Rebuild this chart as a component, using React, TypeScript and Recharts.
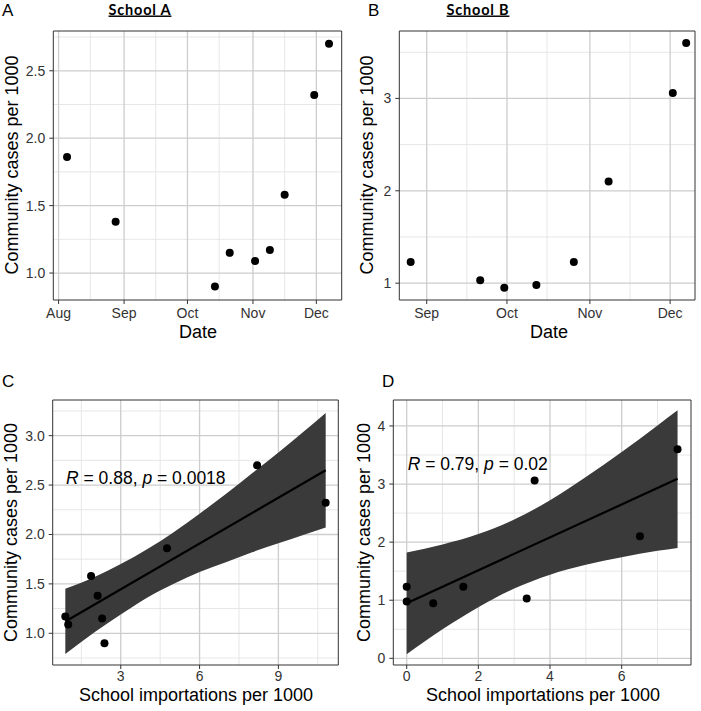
import React from "react";
import { ComposedChart, Scatter, Line, Area, XAxis, YAxis, CartesianGrid, ReferenceArea } from "recharts";

const FONT = "'Liberation Sans', Arial, sans-serif";

// A / B: community cases per 1000 by week
const datesA = ["2020-08-05", "2020-08-28", "2020-10-14", "2020-10-21", "2020-11-02", "2020-11-09", "2020-11-16", "2020-11-30", "2020-12-07"];
const casesA = [1.86, 1.38, 0.9, 1.15, 1.09, 1.17, 1.58, 2.32, 2.7];
const datesB = ["2020-08-26", "2020-09-21", "2020-09-30", "2020-10-12", "2020-10-26", "2020-11-08", "2020-12-02", "2020-12-07"];
const casesB = [1.23, 1.03, 0.95, 0.98, 1.23, 2.1, 3.06, 3.6];

// C / D: school importations vs community cases
const importsC = [0.89, 1.0, 1.87, 2.12, 2.29, 2.38, 4.76, 8.19, 10.8];
const communityC = [1.17, 1.09, 1.58, 1.38, 1.15, 0.9, 1.86, 2.7, 2.32];
const importsD = [0, 0, 0.74, 1.58, 3.35, 3.57, 6.51, 7.56];
const communityD = [1.23, 0.98, 0.95, 1.23, 1.03, 3.06, 2.1, 3.6];

// fitted lines and 95% bands
const fitXC = [0.89, 10.8];
const fitYC = [1.12, 2.65];
const bandXC = [0.89, 2, 3, 4, 5, 6, 7, 8, 9, 10, 10.8];
const bandLoC = [0.79, 1.01, 1.19, 1.36, 1.5, 1.62, 1.72, 1.82, 1.91, 2.0, 2.07];
const bandHiC = [1.45, 1.57, 1.7, 1.85, 2.02, 2.21, 2.41, 2.62, 2.83, 3.05, 3.23];
const fitXD = [0, 7.56];
const fitYD = [0.95, 3.09];
const bandXD = [0, 1, 2, 3, 4, 5, 6, 7, 7.56];
const bandLoD = [0.07, 0.5, 0.88, 1.2, 1.44, 1.61, 1.74, 1.85, 1.9];
const bandHiD = [1.82, 1.96, 2.14, 2.39, 2.72, 3.12, 3.55, 4.01, 4.27];

// axis breaks
const monthTicks = ["2020-08-01", "2020-09-01", "2020-10-01", "2020-11-01", "2020-12-01"];
const monthLabels = ["Aug", "Sep", "Oct", "Nov", "Dec"];
const monthMinor = ["2020-08-16", "2020-09-16", "2020-10-16", "2020-11-16"];

const day = (s: string) => (Date.parse(s) - Date.parse("2020-08-01")) / 86400000;
const monthDays = monthTicks.map(day);
const fmtMonth = (v: number) => monthLabels[monthDays.indexOf(v)] ?? "";
const fmt1 = (v: number) => v.toFixed(1);
const fmt0 = (v: number) => String(v);

const zip = (xs: number[], ys: number[]) => xs.map((x, i) => ({ x, y: ys[i] }));
const band = (xs: number[], lo: number[], hi: number[]) => xs.map((x, i) => ({ x, range: [lo[i], hi[i]] }));

const dot = (p: any) => <circle cx={p.cx} cy={p.cy} r={4} fill="#000" />;

type PanelProps = {
  left: number; top: number; width: number; height: number;
  margin: { top: number; right: number; bottom: number; left: number };
  yAxisWidth: number; xAxisHeight: number; xTickGap: number;
  xDomain: [number, number]; yDomain: [number, number];
  xTicks: number[]; xMinor: number[]; yTicks: number[]; yMinor: number[];
  xFmt: (v: number) => string; yFmt: (v: number) => string;
  points: { x: number; y: number }[];
  fit?: { x: number; y: number }[];
  band?: { x: number; range: number[] }[];
};

const tickStyle = { fontSize: 14, fill: "#333", fontFamily: FONT };

function Panel(p: PanelProps) {
  return (
    <div style={{ position: "absolute", left: p.left, top: p.top }}>
      <ComposedChart width={p.width} height={p.height} margin={p.margin}>
        <CartesianGrid horizontalValues={p.yMinor} verticalValues={p.xMinor} stroke="#e4e4e4" strokeWidth={0.9} />
        <CartesianGrid horizontalValues={p.yTicks} verticalValues={p.xTicks} stroke="#cdcdcd" strokeWidth={1.3} />
        <XAxis type="number" dataKey="x" domain={p.xDomain} ticks={p.xTicks} allowDataOverflow interval={0}
          tickFormatter={p.xFmt} height={p.xAxisHeight} axisLine={false} tickSize={4} tickMargin={p.xTickGap}
          tickLine={{ stroke: "#333" }} tick={tickStyle} />
        <YAxis type="number" dataKey="y" domain={p.yDomain} ticks={p.yTicks} allowDataOverflow interval={0}
          tickFormatter={p.yFmt} width={p.yAxisWidth} axisLine={false} tickSize={4} tickMargin={4}
          tickLine={{ stroke: "#333" }} tick={tickStyle} />
        {p.band && (
          <Area data={p.band} dataKey="range" type="monotone" fill="#3a3a3a" fillOpacity={1} stroke="none" isAnimationActive={false} />
        )}
        {p.fit && <Line data={p.fit} dataKey="y" stroke="#000" strokeWidth={2.2} dot={false} isAnimationActive={false} />}
        <Scatter data={p.points} dataKey="y" shape={dot} isAnimationActive={false} />
        <ReferenceArea x1={p.xDomain[0]} x2={p.xDomain[1]} y1={p.yDomain[0]} y2={p.yDomain[1]}
          fill="none" stroke="#333" strokeWidth={1} ifOverflow="visible" />
      </ComposedChart>
    </div>
  );
}

const YT = "Community cases per 1000";

export default function App() {
  const txt = { fontFamily: FONT, fill: "#000" } as const;
  return (
    <div style={{ position: "absolute", left: 0, top: 0, width: 701, height: 711, background: "#fff" }}>
      <Panel left={0} top={0} width={350} height={340} margin={{ top: 31, right: 8.3, bottom: 0, left: 0 }}
        yAxisWidth={53.3} xAxisHeight={40} xTickGap={4} xDomain={[-2.5, 134]} yDomain={[0.8, 2.795]}
        xTicks={monthDays} xMinor={monthMinor.map(day)} yTicks={[1, 1.5, 2, 2.5]} yMinor={[1.25, 1.75, 2.25, 2.75]}
        xFmt={fmtMonth} yFmt={fmt1} points={zip(datesA.map(day), casesA)} />
      <Panel left={350} top={0} width={351} height={340} margin={{ top: 31, right: 6, bottom: 0, left: 0 }}
        yAxisWidth={49.3} xAxisHeight={40} xTickGap={4} xDomain={[20.75, 131.3]} yDomain={[0.8175, 3.73]}
        xTicks={monthDays.slice(1)} xMinor={monthMinor.slice(1).map(day)} yTicks={[1, 2, 3]} yMinor={[1.5, 2.5, 3.5]}
        xFmt={fmtMonth} yFmt={fmt0} points={zip(datesB.map(day), casesB)} />
      <Panel left={0} top={340} width={350} height={371} margin={{ top: 60, right: 11.7, bottom: 0, left: 0 }}
        yAxisWidth={52.7} xAxisHeight={46} xTickGap={2.5} xDomain={[0.41, 11.28]} yDomain={[0.679, 3.361]}
        xTicks={[3, 6, 9]} xMinor={[1.5, 4.5, 7.5, 10.5]} yTicks={[1, 1.5, 2, 2.5, 3]} yMinor={[0.75, 1.25, 1.75, 2.25, 2.75, 3.25]}
        xFmt={fmt0} yFmt={fmt1} points={zip(importsC, communityC)} fit={zip(fitXC, fitYC)} band={band(bandXC, bandLoC, bandHiC)} />
      <Panel left={350} top={340} width={351} height={371} margin={{ top: 60, right: 10, bottom: 0, left: 0 }}
        yAxisWidth={43.3} xAxisHeight={46} xTickGap={2.5} xDomain={[-0.374, 7.935]} yDomain={[-0.115, 4.447]}
        xTicks={[0, 2, 4, 6]} xMinor={[1, 3, 5, 7]} yTicks={[0, 1, 2, 3, 4]} yMinor={[0.5, 1.5, 2.5, 3.5]}
        xFmt={fmt0} yFmt={fmt0} points={zip(importsD, communityD)} fit={zip(fitXD, fitYD)} band={band(bandXD, bandLoD, bandHiD)} />

      <svg width={701} height={711} style={{ position: "absolute", left: 0, top: 0, pointerEvents: "none" }}>
        <g {...txt} fontSize={17}>
          <text x={2} y={16}>A</text>
          <text x={368} y={16}>B</text>
          <text x={2} y={386.7}>C</text>
          <text x={382} y={386.7}>D</text>
        </g>
        <g fontFamily="Lato, 'Open Sans', sans-serif" fontWeight={700} fontSize={14.5} letterSpacing={0.8} textAnchor="middle" fill="#000">
          <text x={140} y={14.5} textDecoration="underline">School A</text>
          <text x={478} y={14.5} textDecoration="underline">School B</text>
        </g>
        <g {...txt} fontSize={18} textAnchor="middle">
          <text transform="translate(18,165) rotate(-90)">{YT}</text>
          <text transform="translate(373,165) rotate(-90)">{YT}</text>
          <text transform="translate(16.5,532.5) rotate(-90)">{YT}</text>
          <text transform="translate(369.7,532.5) rotate(-90)">{YT}</text>
          <text x={198} y={338.3}>Date</text>
          <text x={549} y={338.3}>Date</text>
          <text x={196} y={701}>School importations per 1000</text>
          <text x={543} y={701}>School importations per 1000</text>
        </g>
        <g {...txt} fontSize={17.5}>
          <text x={66} y={484}><tspan fontStyle="italic">R</tspan> = 0.88, <tspan fontStyle="italic">p</tspan> = 0.0018</text>
          <text x={407.7} y={470}><tspan fontStyle="italic">R</tspan> = 0.79, <tspan fontStyle="italic">p</tspan> = 0.02</text>
        </g>
      </svg>
    </div>
  );
}
